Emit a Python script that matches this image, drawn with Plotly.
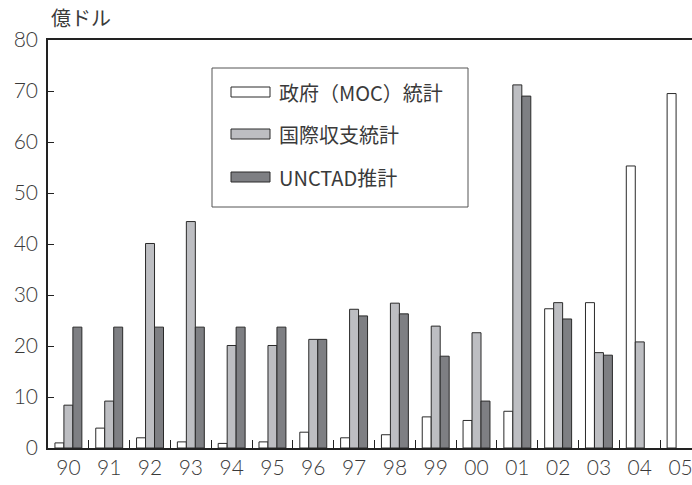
import plotly.graph_objects as go

# Fiscal years (two-digit labels) and investment estimates in 100 million USD
years = ["90", "91", "92", "93", "94", "95", "96", "97",
         "98", "99", "00", "01", "02", "03", "04", "05"]
series_names = ["政府（MOC）統計", "国際収支統計", "UNCTAD推計"]
moc = [1.0, 3.9, 2.0, 1.2, 0.9, 1.2, 3.1, 2.0, 2.6, 6.1, 5.4, 7.2, 27.3, 28.5, 55.3, 69.5]
bop = [8.4, 9.2, 40.1, 44.4, 20.1, 20.1, 21.3, 27.2, 28.4, 23.9, 22.6, 71.2, 28.5, 18.7, 20.8, None]
unctad = [23.7, 23.7, 23.7, 23.7, 23.7, 23.7, 21.3, 25.9, 26.3, 18.0, 9.2, 69.0, 25.3, 18.2, None, None]
y_ticks = [0, 10, 20, 30, 40, 50, 60, 70, 80]
y_unit = "億ドル"

fills = ["#ffffff", "#bdbec2", "#7e7f83"]
outline = "#2a2a2a"
text_color = "#3a3a3a"
num_font = "Lato, Liberation Sans, Arial, sans-serif"
jp_font = "Noto Sans CJK JP, sans-serif"

W, H = 692, 485
ML, MR, MT, MB = 48, 0, 40, 37
PW, PH = W - ML - MR, H - MT - MB

fig = go.Figure()
for name, vals, col in zip(series_names, [moc, bop, unctad], fills):
    fig.add_trace(go.Bar(
        x=years, y=vals, name=name,
        marker=dict(color=col, line=dict(color=outline, width=1)),
        showlegend=False,
    ))


def px_x(px):
    return (px - ML) / PW


def px_y(py):
    return (H - MB - py) / PH


# Framed legend drawn in paper coordinates
shapes = [dict(type="rect", xref="paper", yref="paper",
               x0=px_x(212), x1=px_x(468), y0=px_y(207), y1=px_y(68),
               line=dict(color="#555555", width=1), fillcolor="white", layer="above")]
annotations = []
row_centers = [92, 134, 177]
for name, col, cy in zip(series_names, fills, row_centers):
    shapes.append(dict(type="rect", xref="paper", yref="paper",
                       x0=px_x(231), x1=px_x(270), y0=px_y(cy + 5), y1=px_y(cy - 5),
                       line=dict(color=outline, width=1), fillcolor=col, layer="above"))
    annotations.append(dict(xref="paper", yref="paper", x=px_x(277), y=px_y(cy),
                            xanchor="left", yanchor="middle", showarrow=False,
                            text=name, font=dict(family=jp_font, size=20, color=text_color)))

annotations.append(dict(xref="paper", yref="paper", x=px_x(49), y=px_y(18),
                        xanchor="left", yanchor="middle", showarrow=False,
                        text=y_unit, font=dict(family=jp_font, size=20, color=text_color)))

fig.update_layout(
    width=W, height=H,
    margin=dict(l=ML, r=MR, t=MT, b=MB, pad=0),
    paper_bgcolor="white", plot_bgcolor="white",
    barmode="group", bargap=0.34, bargroupgap=0,
    shapes=shapes, annotations=annotations,
    showlegend=False,
)
fig.update_xaxes(
    type="category", range=[-0.5, 15.28],
    showline=True, linecolor="#222222", linewidth=1.5, mirror=True,
    ticks="inside", tickson="boundaries", ticklen=8, tickcolor="#222222", tickwidth=1,
    showgrid=False, zeroline=False,
    tickfont=dict(family=num_font, size=21, color=text_color, weight=300),
)
fig.update_yaxes(
    range=[0, 80], tickvals=y_ticks,
    showline=True, linecolor="#222222", linewidth=1.5,
    ticks="inside", ticklen=6, tickcolor="#222222", tickwidth=1,
    ticklabelstandoff=4,
    showgrid=False, zeroline=False,
    tickfont=dict(family=num_font, size=21, color=text_color, weight=300),
)

fig.write_html("out.html")
